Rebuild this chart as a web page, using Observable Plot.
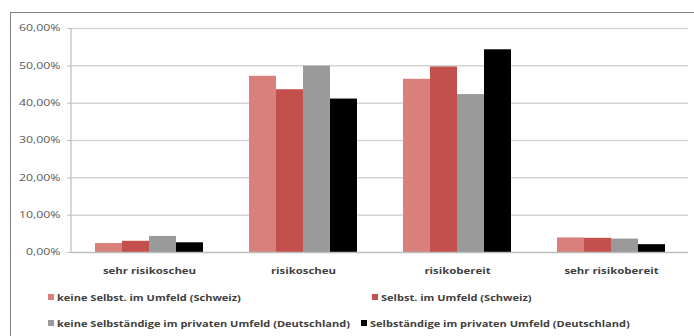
<!DOCTYPE html>
<html><head><meta charset="utf-8">
<script src="https://cdn.jsdelivr.net/npm/d3@7"></script>
<script src="https://cdn.jsdelivr.net/npm/@observablehq/plot@0.6"></script>
<style>
body{margin:0;background:#fff;font-family:"Open Sans",sans-serif;}
#wrap{position:relative;width:694px;height:336px;overflow:hidden;}
#frame{position:absolute;left:10px;top:12px;width:700px;height:340px;border:1.5px solid #858585;pointer-events:none;}
#chart{position:absolute;left:0;top:0;}
.leg{position:absolute;font-size:9.5px;font-weight:700;color:#404040;white-space:nowrap;display:flex;align-items:center;height:12px;}
.sw{display:inline-block;width:6px;height:6px;margin-right:3px;}
.lt{display:inline-block;transform:scaleX(1.16);transform-origin:left center;}
</style></head>
<body>
<div id="wrap"><div id="chart"></div><div id="frame"></div></div>
<script>
const categories = ["sehr risikoscheu","risikoscheu","risikobereit","sehr risikobereit"];
const seriesNames = [
  "keine Selbst. im Umfeld (Schweiz)",
  "Selbst. im Umfeld (Schweiz)",
  "keine Selbständige im privaten Umfeld (Deutschland)",
  "Selbständige im privaten Umfeld (Deutschland)"
];
const seriesColors = ["#d9807c","#c4504d","#9a9a9a","#000000"];
const keineSchweiz = [0.024,0.472,0.464,0.039];
const selbstSchweiz = [0.030,0.436,0.497,0.038];
const keineDeutschland = [0.043,0.499,0.423,0.036];
const selbstDeutschland = [0.026,0.411,0.543,0.021];
const yTicks = [0,0.1,0.2,0.3,0.4,0.5,0.6];

const allSeries = [keineSchweiz, selbstSchweiz, keineDeutschland, selbstDeutschland];
const data = [];
categories.forEach((c,i)=>allSeries.forEach((s,j)=>data.push({cat:c, series:seriesNames[j], value:s[i]})));
const fmt = d => (d*100).toFixed(2).replace(".",",") + "%";

const chart = Plot.plot({
  width:694, height:282,
  marginLeft:71, marginRight:6, marginTop:28, marginBottom:30,
  style:{fontFamily:"Open Sans, sans-serif", background:"transparent"},
  fx:{domain:categories, padding:0, label:null},
  x:{domain:seriesNames, paddingInner:0, paddingOuter:0.76, axis:null},
  y:{domain:[0,0.6], ticks:yTicks, label:null},
  color:{domain:seriesNames, range:seriesColors},
  marks:[
    Plot.gridY(yTicks.filter(d=>d>0), {stroke:"#d4d4d4", strokeOpacity:1, strokeWidth:1.5}),
    Plot.barY(data, {fx:"cat", x:"series", y:"value", fill:"series", inset:0}),
    Plot.ruleY([0], {stroke:"#bdbdbd", strokeWidth:1.5}),
    Plot.axisY(yTicks, {tickFormat:fmt, tickSize:5, tickPadding:7, stroke:"#bdbdbd", fontSize:8.5, fill:"#595959", label:null, className:"yax"}),
    Plot.axisFx({anchor:"bottom", tickSize:0, tickPadding:15, fontSize:9.5, fontWeight:"bold", fill:"#404040", label:null, className:"fxax"})
  ]
});
document.getElementById("chart").appendChild(chart);

// left axis line, positioned through the plot's own y scale
const ys = chart.scale("y");
d3.select(chart).append("line")
  .attr("x1", 71).attr("x2", 71)
  .attr("y1", ys.apply(0)).attr("y2", ys.apply(0.6))
  .attr("stroke", "#bdbdbd").attr("stroke-width", 1.2);

function stretch(sel, f){
  chart.querySelectorAll(sel).forEach(t=>{
    const w = t.getComputedTextLength();
    if (w>0){ t.setAttribute("textLength", w*f); t.setAttribute("lengthAdjust","spacingAndGlyphs"); }
  });
}

const legPos = [[48,291],[372,291],[48,317],[361,317]];
seriesNames.forEach((n,i)=>{
  const d = document.createElement("div");
  d.className="leg";
  d.style.left = legPos[i][0]+"px";
  d.style.top = legPos[i][1]+"px";
  d.innerHTML = `<span class="sw" style="background:${seriesColors[i]}"></span><span class="lt">${n}</span>`;
  document.getElementById("wrap").appendChild(d);
});
stretch(".yax text", 1.45);
stretch(".fxax text", 1.2);
</script>
</body></html>
